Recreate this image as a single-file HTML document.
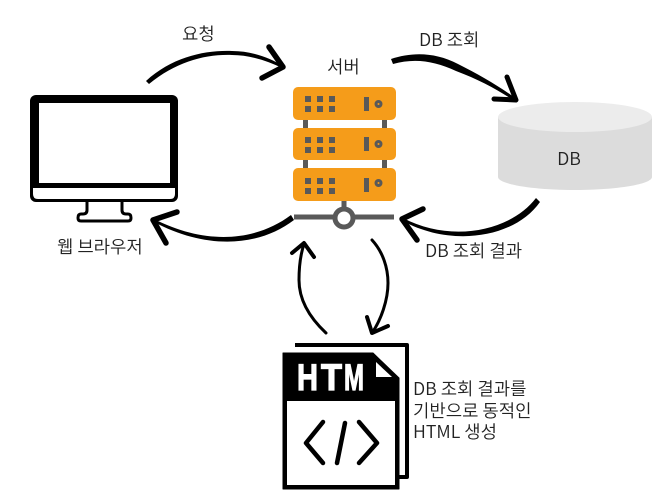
<!DOCTYPE html>
<html><head><meta charset="utf-8"><style>
html,body{margin:0;padding:0;background:#fff}
svg{display:block}
text{font-family:"Noto Sans CJK KR","Liberation Sans",sans-serif;fill:#222;font-size:17.8px;font-weight:350}
</style></head><body>
<svg width="660" height="501" viewBox="0 0 660 501" xmlns="http://www.w3.org/2000/svg">
<rect width="660" height="501" fill="#fff"/>
<!-- monitor -->
<rect x="30" y="95" width="148" height="107" rx="6" fill="#000"/>
<rect x="39" y="103" width="131" height="80" fill="#fff"/>
<path d="M33 188H175V194Q175 199 170 199H38Q33 199 33 194Z" fill="#fff"/>
<path d="M87 202V210Q87 214 83 214H81Q78 214 78 218Q78 221 81 221H128Q131 221 131 218Q131 214 128 214H126Q122 214 122 210V202" fill="#fff" stroke="#000" stroke-width="3"/>
<!-- server -->
<g fill="#595959">
<rect x="303" y="118" width="5" height="52"/><rect x="382" y="118" width="5" height="52"/>
<rect x="341.500" y="199" width="5" height="12"/><rect x="294" y="214.500" width="100" height="5"/>
</g>
<g fill="#f59c1a">
<rect x="293" y="87" width="103" height="33" rx="5"/>
<rect x="293" y="128" width="103" height="32" rx="5"/>
<rect x="293" y="168" width="103" height="33" rx="5"/>
</g>
<g fill="#595959">
<path d="M305 96h6v6h-6zM317 96h6v6h-6zM329 96h6v6h-6zM305 106h6v6h-6zM317 106h6v6h-6zM329 106h6v6h-6z"/>
<path d="M305 137h6v6h-6zM317 137h6v6h-6zM329 137h6v6h-6zM305 147h6v6h-6zM317 147h6v6h-6zM329 147h6v6h-6z"/>
<path d="M305 178h6v6h-6zM317 178h6v6h-6zM329 178h6v6h-6zM305 188h6v6h-6zM317 188h6v6h-6zM329 188h6v6h-6z"/>
<rect x="364" y="97" width="5" height="14"/><rect x="364" y="137" width="5" height="14"/><rect x="364" y="178" width="5" height="14"/>
</g>
<g fill="none" stroke="#595959" stroke-width="3"><circle cx="378.500" cy="104" r="2.500"/><circle cx="378.500" cy="144" r="2.500"/><circle cx="378.500" cy="183" r="2.500"/></g>
<circle cx="344" cy="218" r="9" fill="#fff" stroke="#595959" stroke-width="5"/>
<!-- DB -->
<path d="M498 117V177C498 184 532 190 575 190S652 184 652 177V117Z" fill="#dcdcdc"/>
<ellipse cx="575" cy="117" rx="77" ry="15" fill="#ececec"/>
<text x="569" y="165" text-anchor="middle">DB</text>
<!-- file -->
<path d="M295 345H407V477H395V489" fill="#fff" stroke="#000" stroke-width="4" stroke-linejoin="round"/>
<path d="M283 353H373L399 378V489H283Z" fill="#000" stroke="#000" stroke-width="1" stroke-linejoin="round"/>
<rect x="287" y="401" width="108" height="84" fill="#fff"/>
<path d="M376 362V377H392Z" fill="#fff"/>
<text x="297" y="390" textLength="21" lengthAdjust="spacingAndGlyphs" style="font-family:'Liberation Sans',sans-serif;font-weight:bold;font-size:37px;fill:#fff;stroke:#fff;stroke-width:1.200px">H</text>
<text x="321" y="390" textLength="21" lengthAdjust="spacingAndGlyphs" style="font-family:'Liberation Sans',sans-serif;font-weight:bold;font-size:37px;fill:#fff;stroke:#fff;stroke-width:1.200px">T</text>
<text x="344" y="390" textLength="20" lengthAdjust="spacingAndGlyphs" style="font-family:'Liberation Sans',sans-serif;font-weight:bold;font-size:37px;fill:#fff;stroke:#fff;stroke-width:1.200px">M</text>
<g fill="none" stroke="#000" stroke-width="4.500" stroke-linecap="round" stroke-linejoin="round">
<path d="M323 422L306 443L323 463"/><path d="M345 423L337 463"/><path d="M359 422L377 443L359 463"/>
</g>
<text x="413" y="395">DB 조회 결과를</text>
<text x="413" y="417">기반으로 동적인</text>
<text x="413" y="438">HTML 생성</text>
<!-- labels -->
<text x="182" y="40">요청</text>
<text x="327" y="73">서버</text>
<text x="419" y="46">DB 조회</text>
<text x="425" y="257">DB 조회 결과</text>
<text x="57" y="253">웹 브라우저</text>
<!-- arrows -->
<path d="M146 81C172 57 205 50 232 51C252 51 270 58 283 66L282 68C268 61 250 55 232 55C205 54 176 62 149 84Z" fill="#000"/>
<path d="M391 59C412 52 435 52 458 64C480 75 502 88 518 100L516 102C500 91 480 80 456 71C434 61 415 58 393 64Z" fill="#000"/>
<path d="M536 198C510 232 450 243 403 218L403 221C450 247 514 239 540 202Z" fill="#000"/>
<path d="M291 215C255 242 205 245 154 219L154 222C205 249 257 248 294 220Z" fill="#000"/>
<g fill="none" stroke="#000" stroke-linecap="round" stroke-linejoin="round">
<path d="M269 47L283 67L262 78" stroke-width="5.500"/>
<path d="M507 77L516 100L494 99" stroke-width="5"/>
<path d="M423 209L402 219L417 240" stroke-width="5.500"/>
<path d="M177 212L153 220L166 243" stroke-width="5.500"/>
<path d="M326 333C310 318 299 300 299 280C299 265 301 253 304 244" stroke-width="3"/>
<path d="M292 253L304 243L314 257" stroke-width="4"/>
<path d="M372 240C383 252 388 268 388 283C388 300 381 320 372 333" stroke-width="3"/>
<path d="M367 317L372 333L388 326" stroke-width="4"/>
</g>
</svg>
</body></html>
